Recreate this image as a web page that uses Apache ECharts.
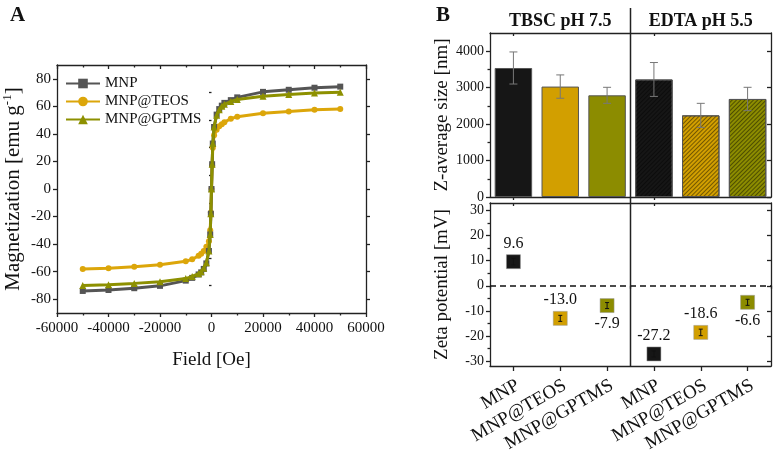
<!DOCTYPE html>
<html>
<head>
<meta charset="UTF-8">
<title>MNP magnetisation / DLS</title>
<script src="https://cdn.jsdelivr.net/npm/echarts@6/dist/echarts.min.js"></script>
<style>
  html, body { margin: 0; padding: 0; background: #fff; }
  #main { width: 777px; height: 457px; }
</style>
</head>
<body>
<div id="main"></div>
<script>
// ---- panel A : magnetisation vs field ----
var field = [-50000, -40000, -30000, -20000, -10000, -7500, -5000, -4000, -3000, -2000, -1000, -500, -250, 0,
             250, 500, 1000, 2000, 3000, 4000, 5000, 7500, 10000, 20000, 30000, 40000, 50000];
var magMNP   = [-74, -73.3, -72, -70.3, -66.5, -64.5, -62, -60.5, -58, -54, -45, -33, -18, 0,
                18, 33, 45, 54, 58, 60.5, 62.5, 64.5, 66.5, 70.5, 72, 73.5, 74.3];
var magTEOS  = [-58, -57.5, -56.5, -55, -52.5, -51, -48.5, -47, -45, -42, -38, -30, -17, 0,
                17, 30, 39, 43, 45.5, 47, 48.5, 51, 52.5, 55, 56.3, 57.5, 58];
var magGPTMS = [-70, -69.5, -68.5, -67.3, -65, -63.5, -61.5, -60, -57.5, -53.5, -45, -33, -18, 0,
                18, 33, 45, 53.5, 57.5, 60, 61.5, 63.5, 65, 67.4, 68.6, 69.6, 70.3];
var magNames = ['MNP', 'MNP@TEOS', 'MNP@GPTMS'];
var magTicks = [-80, -60, -40, -20, 0, 20, 40, 60, 80];

// ---- panel B : DLS size + zeta potential ----
var buffers = ['TBSC pH 7.5', 'EDTA pH 5.5'];
var samples = ['MNP', 'MNP@TEOS', 'MNP@GPTMS', 'MNP', 'MNP@TEOS', 'MNP@GPTMS'];
var zSize    = [3540, 3030, 2790, 3225, 2240, 2690];
var zSizeErr = [440, 320, 220, 465, 330, 320];
var zeta     = [9.6, -13.0, -7.9, -27.2, -18.6, -6.6];
var zetaErr  = [1.3, 1.2, 1.2, 1.2, 1.3, 1.2];
var sizeTicks = [0, 1000, 2000, 3000, 4000];
var zetaTicks = [-30, -20, -10, 0, 10, 20, 30];

var colA = ['#555555', '#dca60a', '#8d9000'];
var colB = ['#161616', '#d29f00', '#8c8c00'];
var labelSide = ['top', 'top', 'bottom', 'top', 'top', 'bottom'];
var serif = 'Liberation Serif';

function zip(a, b) { return a.map(function (v, i) { return [v, b[i]]; }); }
function errData(vals, errs) {
  return vals.map(function (v, i) { return [i, v - errs[i], v + errs[i]]; });
}
function errRender(cap, color) {
  return function (params, api) {
    var x = api.value(0);
    var p1 = api.coord([x, api.value(2)]);
    var p2 = api.coord([x, api.value(1)]);
    var st = { stroke: color, lineWidth: 1 };
    return { type: 'group', children: [
      { type: 'line', shape: { x1: p1[0], y1: p1[1], x2: p2[0], y2: p2[1] }, style: st },
      { type: 'line', shape: { x1: p1[0] - cap, y1: p1[1], x2: p1[0] + cap, y2: p1[1] }, style: st },
      { type: 'line', shape: { x1: p2[0] - cap, y1: p2[1], x2: p2[0] + cap, y2: p2[1] }, style: st }
    ]};
  };
}
function odd(list, step) { // minor tick positions half way between majors
  return list.slice(0, -1).map(function (v) { return v + step; });
}
function plain(v) { return String(v); }

var lineStyleAx = { color: '#222', width: 1.3 };
function frameAxis(o) {
  var base = {
    axisLine: { show: true, onZero: false, lineStyle: lineStyleAx },
    axisTick: { show: true, lineStyle: lineStyleAx },
    axisLabel: { show: false },
    splitLine: { show: false }
  };
  return Object.assign(base, o);
}

var GA = { left: 57, top: 65, width: 309, height: 248 };
var GB1 = { left: 490, top: 33, width: 281, height: 164 };
var GB2 = { left: 490, top: 203, width: 281, height: 163 };

var tickFont = { fontFamily: serif, fontSize: 15, color: '#111', formatter: plain };
var tickFontB = { fontFamily: serif, fontSize: 14, color: '#111', formatter: plain };

var option = {
  animation: false,
  backgroundColor: '#fff',
  textStyle: { fontFamily: serif },
  grid: [GA, GB1, GB2],
  legend: {
    data: magNames, orient: 'vertical', left: 60, top: 71,
    itemWidth: 34, itemHeight: 12, itemGap: 3,
    textStyle: { fontFamily: serif, fontSize: 15, color: '#111' }
  },
  xAxis: [
    frameAxis({ type: 'value', gridIndex: 0, position: 'bottom', min: -60000, max: 60000, interval: 20000,
      axisLabel: Object.assign({ show: true, margin: 8 }, tickFont),
      axisTick: { show: true, length: 4, lineStyle: lineStyleAx },
      minorTick: { show: true, splitNumber: 2, length: 2.5, lineStyle: lineStyleAx },
      name: 'Field [Oe]', nameLocation: 'middle', nameGap: 38,
      nameTextStyle: { fontFamily: serif, fontSize: 19, color: '#111' } }),
    frameAxis({ type: 'value', gridIndex: 0, position: 'top', min: -60000, max: 60000, interval: 20000,
      axisTick: { show: true, inside: true, length: 4, lineStyle: lineStyleAx },
      minorTick: { show: true, splitNumber: 2, length: 2.5, lineStyle: lineStyleAx } }),
    frameAxis({ type: 'category', gridIndex: 1, position: 'bottom', data: samples,
      axisTick: { show: true, alignWithLabel: true, length: 3, lineStyle: lineStyleAx } }),
    frameAxis({ type: 'category', gridIndex: 2, position: 'bottom', data: samples,
      axisTick: { show: true, alignWithLabel: true, length: 5, lineStyle: lineStyleAx },
      axisLabel: { show: true, rotate: 30, margin: 10, interval: 0, verticalAlign: 'top',
                   fontFamily: serif, fontSize: 19, color: '#111' } }),
    frameAxis({ type: 'category', gridIndex: 2, position: 'bottom', data: samples,
      axisLine: { show: false }, axisTick: { show: true, length: 3, lineStyle: lineStyleAx } }),
    frameAxis({ type: 'category', gridIndex: 1, position: 'top', data: samples,
      axisTick: { show: true, inside: true, alignWithLabel: true, length: 3, lineStyle: lineStyleAx } }),
    frameAxis({ type: 'category', gridIndex: 2, position: 'top', data: samples,
      axisTick: { show: true, inside: true, alignWithLabel: true, length: 3, lineStyle: lineStyleAx } })
  ],
  yAxis: [
    frameAxis({ type: 'value', gridIndex: 0, position: 'left', min: -90, max: 90,
      axisLabel: Object.assign({ show: true, margin: 6, customValues: magTicks }, tickFont),
      axisTick: { show: true, length: 4, customValues: magTicks, lineStyle: lineStyleAx },
      name: '{a|Magnetization [emu g}{s|-1}{a|]}', nameLocation: 'middle', nameGap: 32,
      nameTextStyle: { color: '#111', rich: {
        a: { fontFamily: serif, fontSize: 21, lineHeight: 24, color: '#111' },
        s: { fontFamily: serif, fontSize: 13, lineHeight: 24, verticalAlign: 'top', color: '#111' } } } }),
    frameAxis({ type: 'value', gridIndex: 0, position: 'left', min: -90, max: 90,
      axisLine: { show: false },
      axisTick: { show: true, length: 2.5, customValues: odd(magTicks, 10), lineStyle: lineStyleAx } }),
    frameAxis({ type: 'value', gridIndex: 0, position: 'right', min: -90, max: 90,
      axisTick: { show: true, length: 4, customValues: magTicks, lineStyle: lineStyleAx } }),
    frameAxis({ type: 'value', gridIndex: 1, position: 'left', min: 0, max: 4500,
      axisLabel: Object.assign({ show: true, margin: 6, customValues: sizeTicks }, tickFontB),
      axisTick: { show: true, length: 4, customValues: sizeTicks, lineStyle: lineStyleAx },
      name: 'Z-average size [nm]', nameLocation: 'middle', nameGap: 38,
      nameTextStyle: { fontFamily: serif, fontSize: 19, color: '#111' } }),
    frameAxis({ type: 'value', gridIndex: 1, position: 'left', min: 0, max: 4500,
      axisLine: { show: false },
      axisTick: { show: true, length: 2.5, customValues: odd(sizeTicks, 500), lineStyle: lineStyleAx } }),
    frameAxis({ type: 'value', gridIndex: 1, position: 'right', min: 0, max: 4500,
      axisTick: { show: true, inside: true, length: 4, customValues: sizeTicks, lineStyle: lineStyleAx } }),
    frameAxis({ type: 'value', gridIndex: 2, position: 'left', min: -32, max: 33,
      axisLabel: Object.assign({ show: true, margin: 6, customValues: zetaTicks }, tickFontB),
      axisTick: { show: true, length: 4, customValues: zetaTicks, lineStyle: lineStyleAx },
      name: 'Zeta potential [mV]', nameLocation: 'middle', nameGap: 38,
      nameTextStyle: { fontFamily: serif, fontSize: 19, color: '#111' } }),
    frameAxis({ type: 'value', gridIndex: 2, position: 'left', min: -32, max: 33,
      axisLine: { show: false },
      axisTick: { show: true, length: 2.5, customValues: odd(zetaTicks, 5), lineStyle: lineStyleAx } }),
    frameAxis({ type: 'value', gridIndex: 2, position: 'right', min: -32, max: 33,
      axisTick: { show: true, inside: true, length: 4, customValues: zetaTicks, lineStyle: lineStyleAx } })
  ],
  series: [
    { name: magNames[0], type: 'line', xAxisIndex: 0, yAxisIndex: 0, data: zip(field, magMNP),
      symbol: 'rect', symbolSize: 6, lineStyle: { width: 3, color: colA[0] }, itemStyle: { color: colA[0] }, z: 4 },
    { name: magNames[1], type: 'line', xAxisIndex: 0, yAxisIndex: 0, data: zip(field, magTEOS),
      symbol: 'circle', symbolSize: 6, lineStyle: { width: 3, color: colA[1] }, itemStyle: { color: colA[1] }, z: 3 },
    { name: magNames[2], type: 'line', xAxisIndex: 0, yAxisIndex: 0, data: zip(field, magGPTMS),
      symbol: 'triangle', symbolSize: 7, lineStyle: { width: 3, color: colA[2] }, itemStyle: { color: colA[2] }, z: 5 },
    { type: 'bar', xAxisIndex: 2, yAxisIndex: 3, barWidth: '80%',
      data: zSize.map(function (v, i) {
        var st = { color: colB[i % 3], borderColor: '#555', borderWidth: 1 };
        if (i >= 3) {
          st.decal = { symbol: 'rect', symbolSize: 1, dashArrayX: [1, 0], dashArrayY: [1, 2],
                       rotation: -Math.PI / 4, color: 'rgba(0,0,0,0.45)' };
        }
        return { value: v, itemStyle: st };
      }) },
    { type: 'custom', xAxisIndex: 2, yAxisIndex: 3, data: errData(zSize, zSizeErr),
      encode: { x: 0, y: [1, 2] }, renderItem: errRender(4, '#777'), z: 5 },
    { type: 'scatter', xAxisIndex: 3, yAxisIndex: 6, symbol: 'rect', symbolSize: 14,
      data: zeta.map(function (v, i) {
        return { value: [i, v],
                 itemStyle: { color: colB[i % 3], opacity: 1, borderColor: '#999', borderWidth: 0.5 },
                 label: { position: labelSide[i] } };
      }),
      label: { show: true, distance: 3, fontFamily: serif, fontSize: 16, color: '#111',
               formatter: function (p) { return p.value[1].toFixed(1); } },
      markLine: { silent: true, symbol: 'none', label: { show: false },
                  lineStyle: { type: [6, 4], color: '#111', width: 1.5 },
                  data: [{ yAxis: 0 }] } },
    { type: 'custom', xAxisIndex: 3, yAxisIndex: 6, data: errData(zeta, zetaErr),
      encode: { x: 0, y: [1, 2] }, renderItem: errRender(2, '#111'), z: 5 }
  ],
  graphic: [
    { type: 'text', left: 10, top: 5, style: { text: 'A', font: 'bold 21px "Liberation Serif"', fill: '#111' } },
    { type: 'text', left: 436, top: 5, style: { text: 'B', font: 'bold 21px "Liberation Serif"', fill: '#111' } },
    { type: 'text', x: GB1.left + GB1.width / 4, y: 21,
      style: { text: buffers[0], font: 'bold 18px "Liberation Serif"', fill: '#111', textAlign: 'center', textVerticalAlign: 'middle' } },
    { type: 'text', x: GB1.left + GB1.width * 3 / 4, y: 21,
      style: { text: buffers[1], font: 'bold 18px "Liberation Serif"', fill: '#111', textAlign: 'center', textVerticalAlign: 'middle' } },
    { type: 'line', z: 100,
      shape: { x1: GB1.left + GB1.width / 2, y1: 8, x2: GB1.left + GB1.width / 2, y2: GB2.top + GB2.height },
      style: { stroke: '#222', lineWidth: 1.5 } }
  ]
};

var chart = echarts.init(document.getElementById('main'));
chart.setOption(option);
</script>
</body>
</html>
